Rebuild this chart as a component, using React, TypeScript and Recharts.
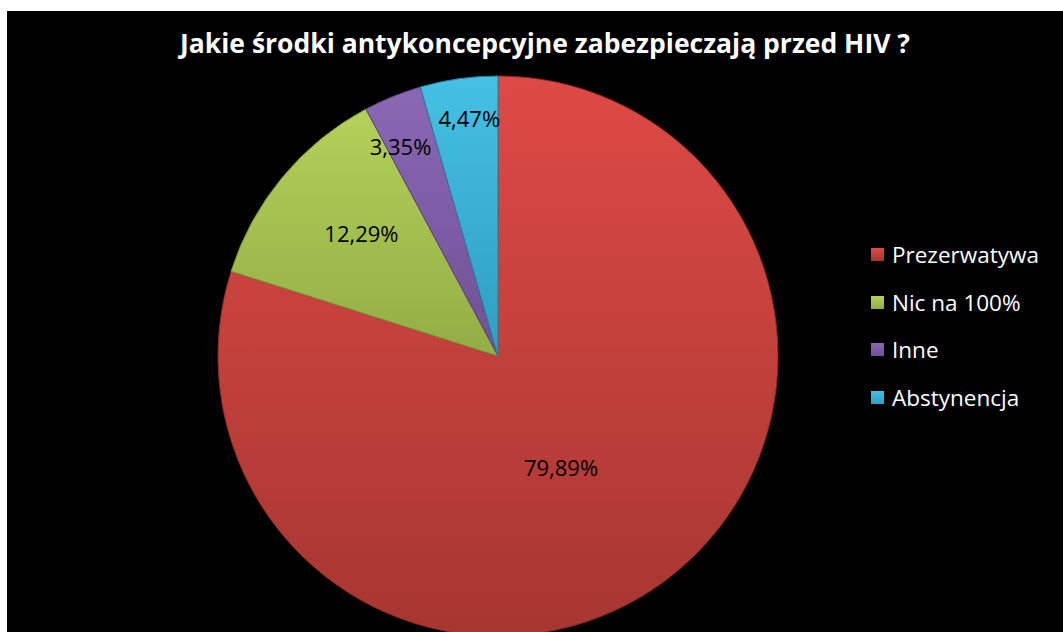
import { PieChart, Pie, Cell, Legend } from 'recharts'

const categories = ['Prezerwatywa', 'Nic na 100%', 'Inne', 'Abstynencja']
const shares = [79.89, 12.29, 3.35, 4.47]
const percentLabels = ['79,89%', '12,29%', '3,35%', '4,47%']

const topColors = ['#de4a45', '#b3d15a', '#8a68b3', '#45c0e4']
const bottomColors = ['#a63631', '#93ad45', '#6f5196', '#2e9ec0']
const edgeColors = ['#8e2b27', '#7d9538', '#5a417c', '#26849f']
// label placement tweaks: share of radius, then sideways nudge
const labelReach = [0.49, 0.69, 0.81, 0.86]
const labelNudge = [-18, 12, -12, 5]

const data = categories.map((name, i) => ({ name, value: shares[i] }))

const RAD = Math.PI / 180

function renderLabel(props: any) {
  const { cx, cy, midAngle, outerRadius, index } = props
  const r = outerRadius * labelReach[index]
  const x = cx + r * Math.cos(-midAngle * RAD) + labelNudge[index]
  const y = cy + r * Math.sin(-midAngle * RAD)
  return (
    <text
      x={x}
      y={y}
      fill="#000"
      fontSize={22}
      fontFamily="'Open Sans', sans-serif"
      textAnchor="middle"
      dominantBaseline="central"
    >
      {percentLabels[index]}
    </text>
  )
}

function LegendList() {
  return (
    <div style={{ fontFamily: "'Open Sans', sans-serif", fontSize: 22.5, color: '#fff' }}>
      {categories.map((c, i) => (
        <div key={c} style={{ display: 'flex', alignItems: 'center', height: 47.5 }}>
          <span
            style={{
              display: 'inline-block',
              width: 13,
              height: 13,
              marginRight: 8,
              background: `linear-gradient(${topColors[i]}, ${bottomColors[i]})`,
            }}
          />
          {c}
        </div>
      ))}
    </div>
  )
}

export default function App() {
  return (
    <div style={{ position: 'absolute', left: 0, top: 0, width: 1063, height: 632, background: '#fff' }}>
      <div style={{ position: 'absolute', left: 7, top: 11, width: 1056, height: 621, background: '#000', overflow: 'hidden' }}>
        <div
          style={{
            position: 'absolute',
            left: 0,
            top: 14,
            width: 1056,
            textAlign: 'center',
            color: '#fff',
            fontFamily: "'Open Sans', sans-serif",
            fontWeight: 700,
            fontSize: 26.5,
            paddingLeft: 20,
            boxSizing: 'border-box',
          }}
        >
          Jakie środki antykoncepcyjne zabezpieczają przed HIV ?
        </div>
        <PieChart width={1056} height={621}>
          <defs>
            {categories.map((c, i) => (
              <linearGradient key={c} id={`grad${i}`} x1="0" y1="0" x2="0" y2="1">
                <stop offset="0%" stopColor={topColors[i]} />
                <stop offset="100%" stopColor={bottomColors[i]} />
              </linearGradient>
            ))}
          </defs>
          <Pie
            data={data}
            dataKey="value"
            nameKey="name"
            cx={486}
            cy={340}
            outerRadius={280}
            startAngle={90}
            endAngle={-270}
            label={renderLabel}
            labelLine={false}
            isAnimationActive={false}
          >
            {data.map((d, i) => (
              <Cell key={d.name} fill={`url(#grad${i})`} stroke={edgeColors[i]} strokeWidth={1} />
            ))}
          </Pie>
          <Legend
            layout="vertical"
            align="right"
            verticalAlign="top"
            content={() => <LegendList />}
            wrapperStyle={{ left: 864, top: 220, width: 190 }}
          />
        </PieChart>
      </div>
    </div>
  )
}
